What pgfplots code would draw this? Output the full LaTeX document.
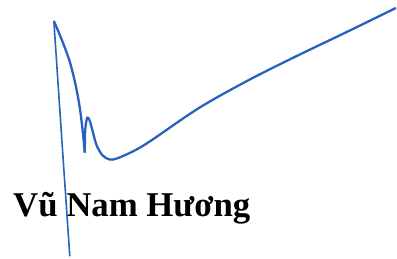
\documentclass[border=0pt]{standalone}
\usepackage{pgfplots}
\pgfplotsset{compat=1.18}
\usepackage{fontspec}
\setmainfont{Liberation Serif}
\definecolor{ink}{RGB}{38,98,190}
\begin{document}
\begin{tikzpicture}
\begin{axis}[
  width=397bp, height=259bp, scale only axis,
  xmin=0, xmax=397, ymin=0, ymax=259, y dir=reverse,
  hide axis, clip=false,
]
\addplot[draw=none, forget plot] coordinates {(0,0) (397,259)};
\node[anchor=base west, font=\fontsize{35}{40}\selectfont\bfseries, inner sep=0pt, text=black]
  at (axis cs:13,217) {Vũ Nam Hương};
\addplot[ink, line width=1.6pt] coordinates {(70,257) (62,140) (54,21)};
\addplot[ink, line width=2.3pt, smooth, tension=0.5] coordinates {
  (54,21) (62,40) (70,62) (76,86) (80,108) (83,132) (85,153)};
\addplot[ink, line width=2.3pt, smooth, tension=0.5] coordinates {
  (85,153) (85.5,130) (87.5,118) (90,121) (93,132) (97,146) (103,156) (110,160)
  (117,159) (133,152) (150,142) (200,108) (250,80) (300,55) (350,31) (397,8)};
\end{axis}
\end{tikzpicture}
\end{document}
